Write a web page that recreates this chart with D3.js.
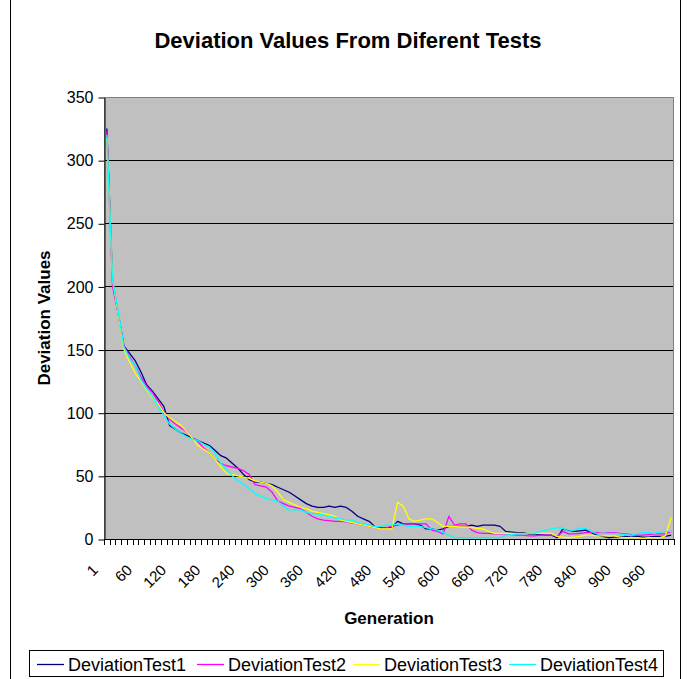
<!DOCTYPE html>
<html>
<head>
<meta charset="utf-8">
<script src="https://cdn.jsdelivr.net/npm/d3@7"></script>
<style>
  body { margin: 0; background: #fff; }
  text { font-family: "Liberation Sans", Arial, sans-serif; fill: #000; }
</style>
</head>
<body>
<div id="chart"></div>
<script>
const generations = [
  1, 10, 20, 30, 40, 50, 60, 70, 80, 90, 100, 110, 120, 130, 140, 150, 160, 170, 180, 190,
  200, 210, 220, 230, 240, 250, 260, 270, 280, 290, 300, 310, 320, 330, 340, 350, 360, 370, 380, 390,
  400, 410, 420, 430, 440, 450, 460, 470, 480, 490, 500, 510, 520, 530, 540, 550, 560, 570, 580, 590,
  600, 610, 620, 630, 640, 650, 660, 670, 680, 690, 700, 710, 720, 730, 740, 750, 760, 770, 780, 790,
  800, 810, 820, 830, 840, 850, 860, 870, 880, 890, 900, 910, 920, 930, 940, 950, 960, 970, 980, 990
];
const xTickLabels = [1, 60, 120, 180, 240, 300, 360, 420, 480, 540, 600, 660, 720, 780, 840, 900, 960];
const yTicks = [0, 50, 100, 150, 200, 250, 300, 350];

const seriesNames = ["DeviationTest1", "DeviationTest2", "DeviationTest3", "DeviationTest4"];
const seriesColors = ["#000080", "#ff00ff", "#ffff00", "#00ffff"];

const test1 = [
  325, 205, 178, 153, 147, 141, 132, 122, 117, 111,
  105, 90, 87, 84, 82, 80, 78, 76, 74, 70,
  66, 64, 60, 56, 51, 47, 45, 45, 44, 43,
  41, 39, 37, 34, 31, 28, 26, 25, 25, 26,
  25, 26, 25, 22, 18, 16, 14, 10, 9, 9,
  9, 14, 12, 12, 12, 11, 8, 8, 7, 8,
  10, 10, 10, 10, 11, 10, 11, 11, 11, 10,
  6, 5.5, 5, 5, 4, 4, 3.5, 3, 3, 1,
  8, 6.5, 6, 6.5, 7, 5, 3, 2, 1, 1.5,
  1.5, 2, 1.5, 2, 1.5, 1.5, 2, 2, 2, 3
];
const test2 = [
  322, 200, 178, 153, 144, 137, 128, 121, 116, 109,
  101, 95, 91, 88, 85, 80, 77, 72, 68, 63,
  60, 58, 57, 56, 54, 51, 43, 42, 41, 37,
  30, 28, 26, 25, 24, 21, 18, 16, 15, 14.5,
  14, 14, 13.5, 12.5, 12, 11, 10, 9, 8.5, 9,
  10, 11, 12, 12, 12, 12, 12, 7, 6, 4,
  18, 11, 12, 12, 7, 5, 4.5, 4.5, 4, 4,
  4, 3.5, 3, 3, 2.5, 2.5, 3, 3, 3, 2,
  6, 4, 4, 4.5, 5, 5.5, 5, 4.5, 5, 5,
  4.5, 4, 3.5, 3, 3, 3.5, 4, 4, 4, 6
];
const test3 = [
  318, 205, 178, 150, 140, 131, 125, 118, 112, 107,
  100, 96, 93, 90, 85, 80, 74, 71, 68, 63,
  57, 52, 51, 50, 49, 48, 46, 45, 44, 42,
  37, 31, 29, 27, 25, 24, 22, 21, 20, 19,
  18, 15, 14, 13, 12, 11, 10, 9, 8, 8,
  8, 29, 26, 16, 14, 15, 16, 16, 13, 10,
  10, 10, 9.5, 9.5, 9, 8.5, 8, 6, 4.5, 4.5,
  4.5, 4.5, 4.5, 4.5, 4.5, 4.5, 4.5, 4.5, 4.5, 2,
  1.5, 1, 1.5, 2, 3, 3, 2.5, 2.5, 2.5, 2.5,
  1.5, 1, 1, 1, 0.5, 1, 1, 1, 2.5, 17
];
const test4 = [
  320, 205, 180, 152, 143, 137, 126, 119, 113, 105,
  98, 91, 87, 84, 81, 79, 78, 75, 73, 68,
  60, 55, 50, 46, 43, 40, 36, 34, 32, 31,
  30, 26, 23, 23, 23, 21, 20, 20, 19, 18,
  17, 16, 15, 15, 13, 12, 11, 10, 10, 11,
  11, 12, 11, 10, 10, 10, 9, 8, 7, 5,
  3, 1, 1, 1, 1, 1, 1, 1, 1, 1,
  3, 3.5, 4, 4, 4.5, 4.5, 6, 7, 8, 9,
  8.5, 6, 7, 8.5, 8.5, 6, 4, 4.5, 4.5, 4.5,
  4, 3.5, 3, 4, 5, 5, 4.5, 5.5, 6, 6
];
const seriesValues = [test1, test2, test3, test4];

const width = 689;
const height = 679;
const plot = { left: 104, right: 674, top: 97, bottom: 539 };

const svg = d3.select("#chart")
  .append("svg")
  .attr("width", width)
  .attr("height", height);

// chart frame (sides only, top and bottom are out of the picture)
svg.append("line").attr("x1", 10.5).attr("x2", 10.5).attr("y1", 0).attr("y2", height)
  .attr("stroke", "#000");
svg.append("line").attr("x1", 680.5).attr("x2", 680.5).attr("y1", 0).attr("y2", height)
  .attr("stroke", "#000");

const x = d3.scaleBand()
  .domain(generations)
  .range([plot.left, plot.right]);

const y = d3.scaleLinear()
  .domain([0, 350])
  .range([plot.bottom, plot.top]);

const cx = g => x(g) + x.bandwidth() / 2;

// plot area
svg.append("rect")
  .attr("x", plot.left)
  .attr("y", plot.top)
  .attr("width", plot.right - plot.left)
  .attr("height", plot.bottom - plot.top)
  .attr("fill", "#c0c0c0");

// gridlines
svg.append("g")
  .selectAll("line")
  .data(yTicks.slice(1))
  .join("line")
  .attr("x1", plot.left)
  .attr("x2", plot.right)
  .attr("y1", d => Math.round(y(d)) + 0.5)
  .attr("y2", d => Math.round(y(d)) + 0.5)
  .attr("stroke", "#000")
  .attr("stroke-width", 1.2);

svg.append("rect")
  .attr("x", plot.left + 0.5)
  .attr("y", plot.top + 0.5)
  .attr("width", plot.right - plot.left - 1)
  .attr("height", plot.bottom - plot.top)
  .attr("fill", "none")
  .attr("stroke", "#808080");

// y axis
const yAxis = svg.append("g")
  .attr("transform", `translate(${plot.left + 0.5},0.5)`)
  .call(d3.axisLeft(y).tickValues(yTicks).tickSize(6).tickPadding(5).tickSizeOuter(0));
yAxis.select(".domain").attr("stroke", "#000");
yAxis.selectAll(".tick line").attr("stroke", "#000");
yAxis.selectAll(".tick text")
  .attr("font-size", 16)
  .attr("font-family", "Liberation Sans, Arial, sans-serif")
  .attr("fill", "#000");

// x axis line and tick marks between categories
const xAxis = svg.append("g");
xAxis.append("line")
  .attr("x1", plot.left)
  .attr("x2", plot.right + 1)
  .attr("y1", plot.bottom + 0.5)
  .attr("y2", plot.bottom + 0.5)
  .attr("stroke", "#000");
xAxis.selectAll(".xtick")
  .data(generations.concat(["end"]))
  .join("line")
  .attr("class", "xtick")
  .attr("x1", d => Math.round(d === "end" ? plot.right : x(d)) + 0.5)
  .attr("x2", d => Math.round(d === "end" ? plot.right : x(d)) + 0.5)
  .attr("y1", plot.bottom)
  .attr("y2", plot.bottom + 6)
  .attr("stroke", "#000");
xAxis.selectAll(".xlabel")
  .data(xTickLabels)
  .join("text")
  .attr("class", "xlabel")
  .attr("transform", d => `translate(${cx(d) - 8},${plot.bottom + 32}) rotate(-45)`)
  .attr("text-anchor", "end")
  .attr("font-size", 15)
  .text(d => d);

// series
const line = d3.line()
  .x((d, i) => cx(generations[i]))
  .y(d => y(d));

svg.append("g")
  .selectAll("path")
  .data(seriesValues)
  .join("path")
  .attr("fill", "none")
  .attr("stroke", (d, i) => seriesColors[i])
  .attr("stroke-width", 1.3)
  .attr("stroke-linejoin", "round")
  .attr("d", line);

// titles
svg.append("text")
  .attr("x", 348)
  .attr("y", 48)
  .attr("text-anchor", "middle")
  .attr("font-size", 22)
  .attr("font-weight", "bold")
  .text("Deviation Values From Diferent Tests");

svg.append("text")
  .attr("transform", `translate(50,${(plot.top + plot.bottom) / 2}) rotate(-90)`)
  .attr("text-anchor", "middle")
  .attr("font-size", 17)
  .attr("font-weight", "bold")
  .text("Deviation Values");

svg.append("text")
  .attr("x", (plot.left + plot.right) / 2)
  .attr("y", 624)
  .attr("text-anchor", "middle")
  .attr("font-size", 17)
  .attr("font-weight", "bold")
  .text("Generation");

// legend
const legendX = [37, 197, 353, 509];
const legend = svg.append("g");
legend.append("rect")
  .attr("x", 29.5)
  .attr("y", 650.5)
  .attr("width", 634)
  .attr("height", 26)
  .attr("fill", "#fff")
  .attr("stroke", "#000");
const items = legend.selectAll(".legend-item")
  .data(seriesNames)
  .join("g")
  .attr("class", "legend-item")
  .attr("transform", (d, i) => `translate(${legendX[i]},664)`);
items.append("line")
  .attr("x1", 0)
  .attr("x2", 27)
  .attr("y1", 0.5)
  .attr("y2", 0.5)
  .attr("stroke", (d, i) => seriesColors[i])
  .attr("stroke-width", 1.3);
items.append("text")
  .attr("x", 31)
  .attr("y", 6.5)
  .attr("font-size", 18)
  .text(d => d);
</script>
</body>
</html>
